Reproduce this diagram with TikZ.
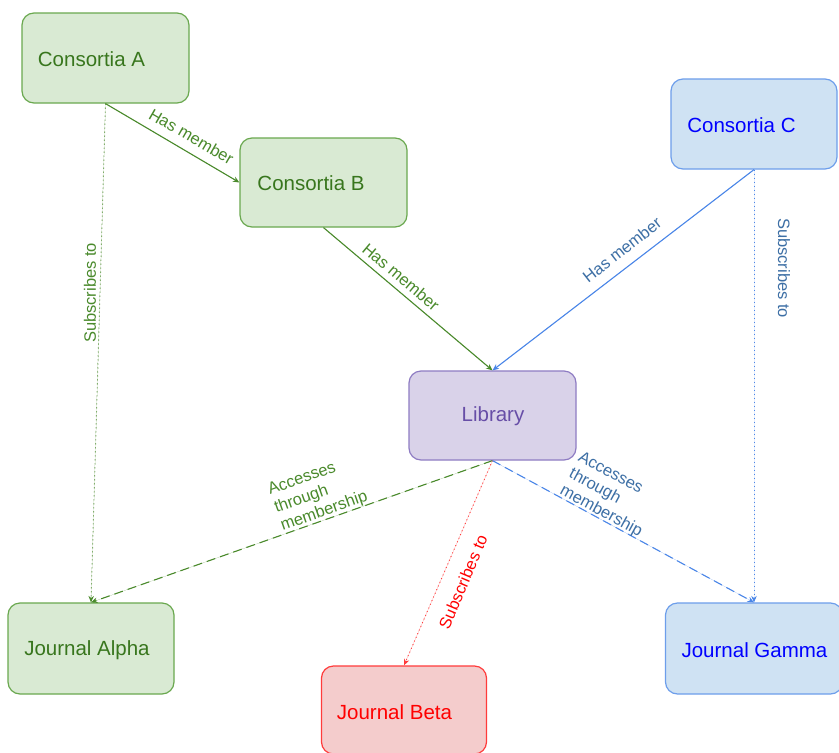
\documentclass[tikz,border=0pt]{standalone}
\usepackage{fontspec}
\setmainfont{Liberation Sans}
\usetikzlibrary{arrows.meta}
\definecolor{gfill}{HTML}{D9EAD3}
\definecolor{gline}{HTML}{6AA84F}
\definecolor{gtext}{HTML}{38761D}
\definecolor{gedgec}{HTML}{4A8A2C}
\definecolor{bfill}{HTML}{CFE2F3}
\definecolor{bline}{HTML}{6D9EEB}
\definecolor{btext}{HTML}{0000FF}
\definecolor{bedgec}{HTML}{4A86E8}
\definecolor{blabel}{HTML}{3D6FA5}
\definecolor{pfill}{HTML}{D9D2E9}
\definecolor{pline}{HTML}{8E7CC3}
\definecolor{ptext}{HTML}{674EA7}
\definecolor{rfill}{HTML}{F4CCCC}
\definecolor{rline}{HTML}{FF3B3B}
\definecolor{rtext}{HTML}{FF0000}
\begin{document}
\begin{tikzpicture}[x=1pt,y=-1pt,
  box/.style={draw, rounded corners=12pt, line width=1.2pt, inner sep=0pt},
  gbox/.style={box, fill=gfill, draw=gline},
  bbox/.style={box, fill=bfill, draw=bline},
  pbox/.style={box, fill=pfill, draw=pline},
  rbox/.style={box, fill=rfill, draw=rline},
  boxtxt/.style={inner sep=0pt, font=\fontsize{20.5}{24}\selectfont},
  lbl/.style={inner sep=0pt, font=\fontsize{16.5}{19}\selectfont, align=left},
  tip/.style={-{Stealth[length=6.5pt,width=5.5pt]}},
  gedge/.style={tip, draw=gedgec, fill=gedgec, line width=1.1pt},
  bedge/.style={tip, draw=bedgec, fill=bedgec, line width=1.1pt},
  redge/.style={tip, draw=rline, fill=rline, line width=1.1pt},
  dotline/.style={line width=0.9pt, dash pattern=on 1pt off 3pt},
  dashline/.style={dash pattern=on 9pt off 5pt}
]
\useasboundingbox (0,0) rectangle (839,753);
\fill[white] (0,0) rectangle (839,753);

% boxes
\node[gbox, minimum width=167pt, minimum height=90pt] (A) at (105.5,58) {};
\node[gbox, minimum width=167pt, minimum height=89pt] (B) at (323.5,182.5) {};
\node[bbox, minimum width=166pt, minimum height=90pt] (C) at (754,124) {};
\node[pbox, minimum width=167pt, minimum height=89pt] (Lib) at (492.5,415.5) {};
\node[gbox, minimum width=166pt, minimum height=91pt] (Alpha) at (91,648.5) {};
\node[rbox, minimum width=165pt, minimum height=88pt] (Beta) at (404,710) {};
\node[bbox, minimum width=177pt, minimum height=91pt] (Gamma) at (754,648.5) {};

% box texts
\node[boxtxt, text=gtext] (tA) at (91.5,59) {Consortia A};
\node[boxtxt, text=gtext] (tB) at (311,183) {Consortia B};
\node[boxtxt, text=btext] (tC) at (741.5,125) {Consortia C};
\node[boxtxt, text=ptext] (tLib) at (493,416) {Library};
\node[boxtxt, text=gtext] (tAlpha) at (87,650) {Journal Alpha};
\node[boxtxt, text=rtext] (tBeta) at (394.5,712) {Journal Beta};
\node[boxtxt, text=btext] (tGamma) at (754.5,650) {Journal Gamma};

% connectors
\draw[gedge] (A.south) -- (B.west);
\draw[gedge, dotline] (A.south) -- (Alpha.north);
\draw[gedge] (B.south) -- (Lib.north);
\draw[bedge] (C.south) -- (Lib.north);
\draw[bedge, dotline] (C.south) -- (Gamma.north);
\draw[gedge, dashline] (Lib.south) -- (Alpha.north);
\draw[redge, dotline] (Lib.south) -- (Beta.north);
\draw[bedge, dashline] (Lib.south) -- (Gamma.north);

% connector labels
\node[lbl, text=gedgec, rotate=-30] (l1) at (191.5,136.5) {Has member};
\node[lbl, text=gedgec, rotate=90] (l2) at (90,293) {Subscribes to};
\node[lbl, text=gedgec, rotate=-40] (l3) at (401,277) {Has member};
\node[lbl, text=blabel, rotate=38] (l4) at (622,250) {Has member};
\node[lbl, text=blabel, rotate=-90] (l5) at (784,268) {Subscribes to};
\node[lbl, text=gedgec, rotate=19.5] (l6) at (318,494) {Accesses\\through\\membership};
\node[lbl, text=rtext, rotate=67] (l7) at (463,582) {Subscribes to};
\node[lbl, text=blabel, rotate=-28.5] (l8) at (610,495) {Accesses\\through\\membership};
\end{tikzpicture}
\end{document}
